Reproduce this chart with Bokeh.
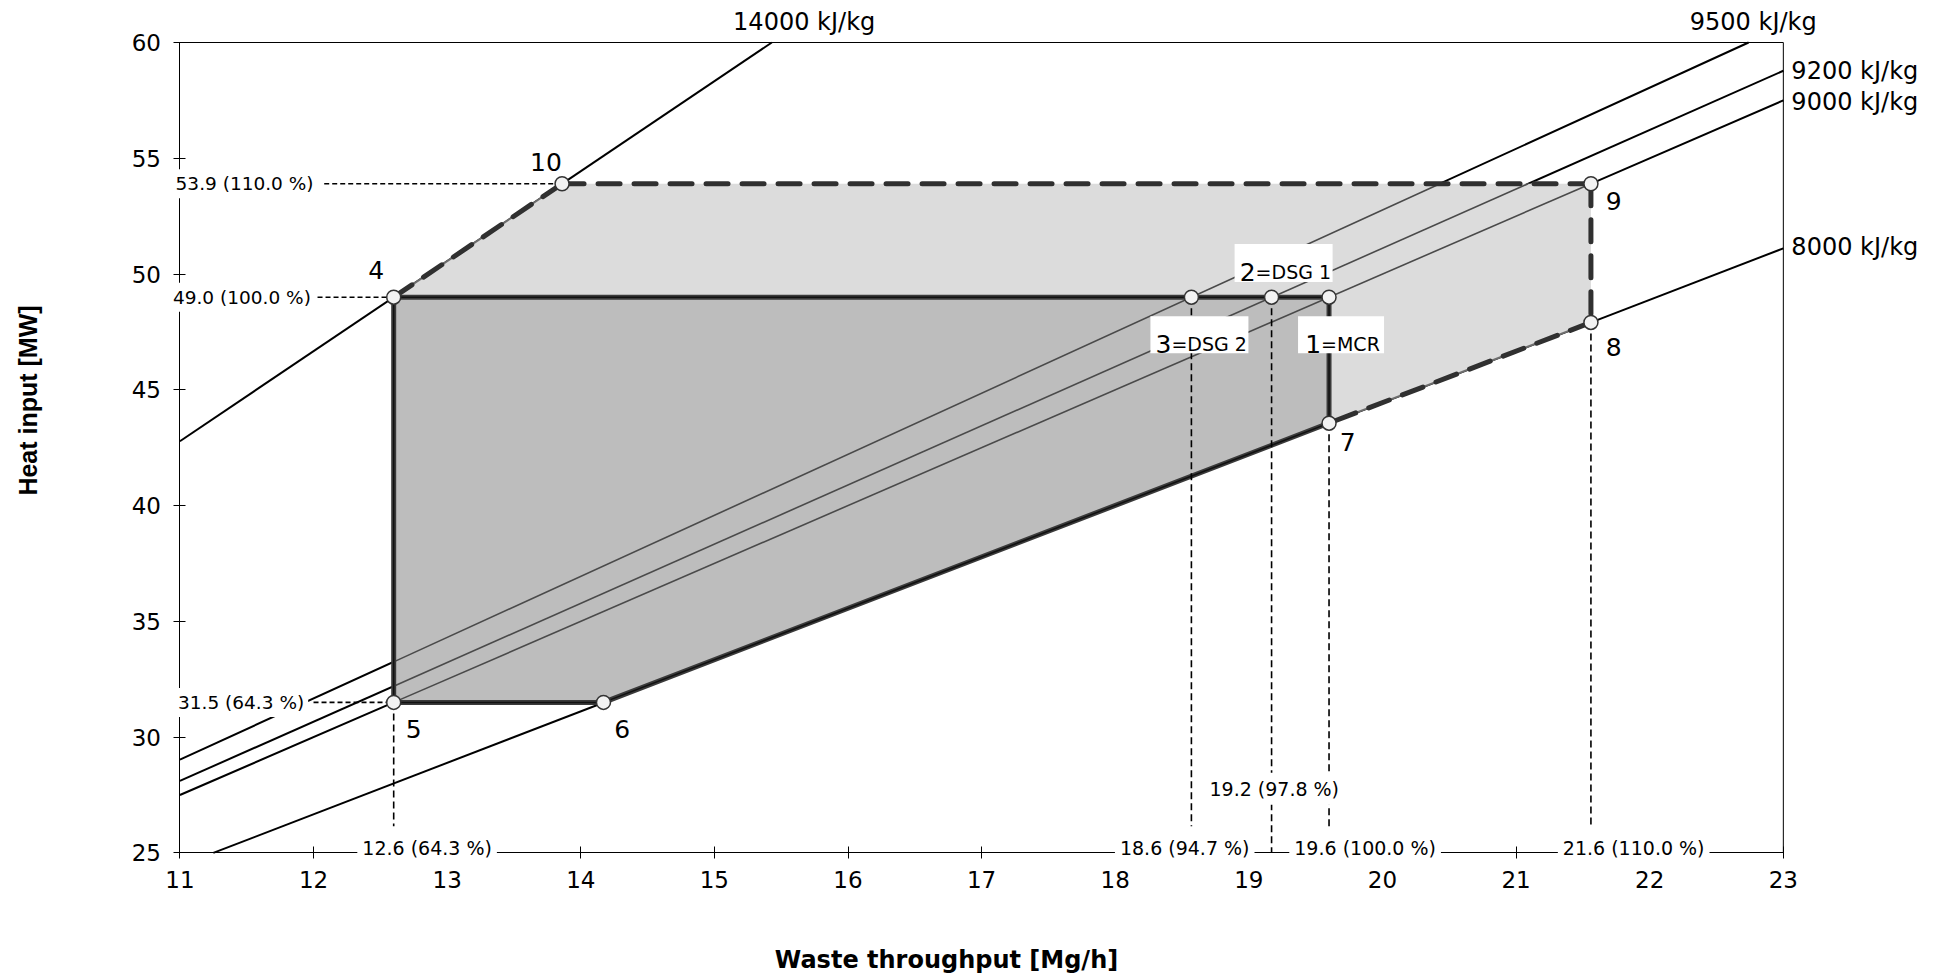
import math
from bokeh.plotting import figure
from bokeh.models import Label, Range1d, FixedTicker, LinearAxis
from bokeh.core.properties import value
from bokeh.embed import file_html
from bokeh.resources import INLINE

# ---------------- data ----------------
x_ticks = [11, 12, 13, 14, 15, 16, 17, 18, 19, 20, 21, 22, 23]
y_ticks = [25, 30, 35, 40, 45, 50, 55, 60]
x_title = "Waste throughput [Mg/h]"
y_title = "Heat input [MW]"

# constant heating value lines (endpoints)
lhv_labels = ["14000 kJ/kg", "9500 kJ/kg", "9200 kJ/kg", "9000 kJ/kg", "8000 kJ/kg"]
lhv_x0 = [11.0, 11.0, 11.0, 11.0, 11.25]
lhv_y0 = [42.78, 29.03, 28.11, 27.5, 25.0]
lhv_x1 = [15.43, 22.74, 23.0, 23.0, 23.0]
lhv_y1 = [60.0, 60.0, 58.78, 57.5, 51.11]
lhv_label_x = [15.14, 22.3, 23.06, 23.06, 23.06]
lhv_label_y = [60.88, 60.9, 58.77, 57.43, 51.18]

# parts of the lines that lie inside the firing diagram
inner_x0 = [12.6, 12.6, 12.6]
inner_y0 = [33.25, 32.2, 31.5]
inner_x1 = [20.43, 21.09, 21.56]
inner_y1 = [53.9, 53.9, 53.9]

# operating points
pt_names = ["1", "2", "3", "4", "5", "6", "7", "8", "9", "10"]
pt_x = [19.6, 19.17, 18.57, 12.6, 12.6, 14.17, 19.6, 21.56, 21.56, 13.86]
pt_y = [49.0, 49.0, 49.0, 49.0, 31.5, 31.5, 43.56, 47.91, 53.9, 53.9]

# point number labels (4..10)
num_text = ["4", "10", "5", "6", "7", "8", "9"]
num_x = [12.47, 13.74, 12.75, 14.31, 19.74, 21.73, 21.73]
num_y = [50.17, 54.82, 30.34, 30.34, 42.74, 46.85, 53.16]

# boxed labels of 1, 2, 3
box_big = ["2", "3", "1"]
box_small = ["=DSG 1", "=DSG 2", "=MCR"]
box_x = [19.26, 18.63, 19.69]
box_y = [50.48, 47.38, 47.38]

# heat input value labels (left)
hv_text = ["53.9 (110.0 %)", "49.0 (100.0 %)", "31.5 (64.3 %)"]
hv_x = [12.03, 12.01, 11.96]
hv_y = [53.9, 49.0, 31.5]
hv_line_x0 = [12.08, 12.03, 12.0]
hv_line_x1 = [13.86, 12.6, 12.6]

# throughput value labels (bottom)
tp_text = ["12.6 (64.3 %)", "18.6 (94.7 %)", "19.6 (100.0 %)", "21.6 (110.0 %)", "19.2 (97.8 %)"]
tp_x = [12.85, 18.52, 19.87, 21.88, 19.19]
tp_y = [25.22, 25.22, 25.22, 25.22, 27.77]
v_line_x = [12.6, 18.57, 19.17, 19.6, 21.56]
v_line_y0 = [31.5, 49.0, 49.0, 43.56, 47.91]
v_line_y1 = [26.15, 26.15, 25.0, 26.15, 26.15]

# ---------------- figure ----------------
FONT = "DejaVu Sans"
W, H = 1930, 974
# the frame covers the whole canvas so that texts beyond the axes are not clipped
XPX = 133.62   # px per Mg/h
YPX = 23.154   # px per MW
LEFT, TOP = 179.4, 42.0
xr = Range1d(x_ticks[0] - LEFT / XPX, x_ticks[0] + (W - LEFT) / XPX)
yr = Range1d(y_ticks[-1] - (H - TOP) / YPX, y_ticks[-1] + TOP / YPX)

p = figure(width=W, height=H, output_backend="svg", toolbar_location=None,
           x_range=xr, y_range=yr, x_axis_type=None, y_axis_type=None,
           min_border=0, min_border_left=0, min_border_right=0,
           min_border_top=0, min_border_bottom=0)
p.title.visible = False
p.xgrid.visible = False
p.ygrid.visible = False
p.outline_line_color = None
p.background_fill_color = "white"
p.border_fill_color = "white"

xax = LinearAxis(fixed_location=y_ticks[0], bounds=(x_ticks[0], x_ticks[-1]),
                 ticker=FixedTicker(ticks=x_ticks))
yax = LinearAxis(fixed_location=x_ticks[0], bounds=(y_ticks[0], y_ticks[-1]),
                 ticker=FixedTicker(ticks=y_ticks))
for ax in (xax, yax):
    ax.axis_line_color = "black"
    ax.axis_line_width = 1
    ax.major_tick_in = 6
    ax.major_tick_out = 6
    ax.major_tick_line_color = "black"
    ax.minor_tick_line_color = None
    ax.major_label_text_font = FONT
    ax.major_label_text_font_size = "23px"
    ax.major_label_text_color = "black"
xax.major_label_standoff = 12
yax.major_label_standoff = 13
p.add_layout(xax, "below")
p.add_layout(yax, "left")

# frame top and right sides
p.line([x_ticks[0], x_ticks[-1], x_ticks[-1]], [y_ticks[-1], y_ticks[-1], y_ticks[0]],
       line_color="black", line_width=1)

# black heating-value lines
p.segment(x0=lhv_x0, y0=lhv_y0, x1=lhv_x1, y1=lhv_y1, line_color="black", line_width=2)

# outer (light) and inner (dark) region
P = dict(zip(pt_names, zip(pt_x, pt_y)))
outer = ["4", "10", "9", "8", "7", "6", "5"]
inner = ["4", "1", "7", "6", "5"]
p.patch([P[k][0] for k in outer], [P[k][1] for k in outer], fill_color="#dcdcdc", line_color=None)
p.patch([P[k][0] for k in inner], [P[k][1] for k in inner], fill_color="#bdbdbd", line_color=None)

# gray line parts inside the region
p.segment(x0=inner_x0, y0=inner_y0, x1=inner_x1, y1=inner_y1, line_color="#4a4a4a", line_width=1.6)

# thin gray lines under dashed edges
for a, b in (("4", "10"), ("8", "7")):
    p.line([P[a][0], P[b][0]], [P[a][1], P[b][1]], line_color="#6e6e6e", line_width=2)
# dashed edges of the extended range
for a, b in (("4", "10"), ("10", "9"), ("9", "8"), ("8", "7")):
    p.line([P[a][0], P[b][0]], [P[a][1], P[b][1]], line_color="#303030", line_width=5,
           line_dash="22 14", line_cap="round")

# thick edges of the normal range
closed = inner + ["4"]
p.line([P[k][0] for k in closed], [P[k][1] for k in closed], line_color="#3a3a3a", line_width=5,
       line_join="miter")
p.line([P[k][0] for k in closed], [P[k][1] for k in closed], line_color="#111111", line_width=1.5)

# dashed reference lines
p.segment(x0=hv_line_x0, y0=hv_y, x1=hv_line_x1, y1=hv_y, line_color="black", line_width=1.6,
          line_dash="5 3")
p.segment(x0=v_line_x, y0=v_line_y0, x1=v_line_x, y1=v_line_y1, line_color="black", line_width=1.6,
          line_dash="7 4")

# points
p.scatter(pt_x, pt_y, size=14, marker="circle", fill_color="#f2f2f2", line_color="#333333",
          line_width=1.5)

# boxed labels
p.rect(x=box_x, y=box_y, width=[98, 98, 86], height=[38, 37, 37], width_units="screen",
       height_units="screen", fill_color="white", line_color=None)
split = [-28, -28, -20]
p.text(x=box_x, y=box_y, text=box_big, x_offset=split, y_offset=9, text_align="right",
       text_baseline="alphabetic", text_font=value(FONT), text_font_size="25px", text_color="black")
p.text(x=box_x, y=box_y, text=box_small, x_offset=split, y_offset=9, text_align="left",
       text_baseline="alphabetic", text_font=value(FONT), text_font_size="19px", text_color="black")

# point numbers
p.text(x=num_x, y=num_y, text=num_text, text_align="center", text_baseline="middle",
       text_font=value(FONT), text_font_size="25px", text_color="black")

# heating value line labels
for t, x, y, in zip(lhv_labels, lhv_label_x, lhv_label_y):
    p.add_layout(Label(x=x, y=y, text=t, text_align="left", text_baseline="middle",
                       text_font=FONT, text_font_size="24px", text_color="black"))

# value labels with white background
for t, x, y in zip(hv_text, hv_x, hv_y):
    p.add_layout(Label(x=x, y=y, text=t, text_align="right", text_baseline="middle",
                       text_font=FONT, text_font_size="18.5px", text_color="black",
                       background_fill_color="white", padding=4))
for t, x, y in zip(tp_text, tp_x, tp_y):
    p.add_layout(Label(x=x, y=y, text=t, text_align="center", text_baseline="middle",
                       text_font=FONT, text_font_size="19px", text_color="black",
                       background_fill_color="white", padding=5))

# axis titles
p.add_layout(Label(x=x_ticks[0] + (946 - LEFT) / XPX, y=y_ticks[-1] - (959 - TOP) / YPX,
                   text=x_title, text_align="center", text_baseline="middle",
                   text_font=FONT, text_font_size="24px", text_font_style="bold",
                   text_color="black"))
p.add_layout(Label(x=x_ticks[0] - (179.4 - 27) / XPX, y=y_ticks[-1] - (400 - TOP) / YPX,
                   text=y_title, angle=math.pi / 2, text_align="center", text_baseline="middle",
                   text_font="Liberation Sans", text_font_size="25px", text_font_style="bold",
                   text_color="black"))

open("out.html", "w").write(file_html(p, INLINE))
